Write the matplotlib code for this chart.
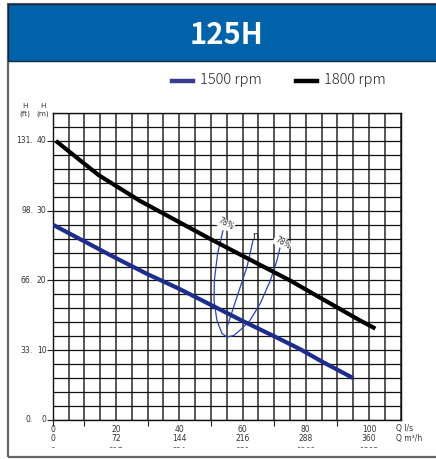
import matplotlib
matplotlib.use("Agg")
import matplotlib.pyplot as plt
from matplotlib.patches import Rectangle
from matplotlib.transforms import blended_transform_factory, Bbox

W, H = 436, 459
title = "125H"
series_names = ["1500 rpm", "1800 rpm"]
series_colors = ["#1c2d8c", "#000000"]
legend_colors = ["#3a3a90", "#000000"]

q_1500 = [0, 10, 20, 30, 40, 50, 60, 70, 78, 85, 95]
h_1500 = [28.0, 25.6, 23.2, 20.9, 18.8, 16.5, 14.2, 12.0, 10.2, 8.4, 6.0]

q_1800 = [1, 14.5, 27.6, 50, 75, 97, 102]
h_1800 = [40.0, 35.1, 31.4, 25.9, 20.0, 14.3, 13.1]

q_eff78 = [53.8, 52.1, 51.1, 51.0, 51.9, 53.5, 55.1, 57.2, 59.8, 62.4, 65.6, 68.8, 70.9, 71.9]
h_eff78 = [27.1, 23.8, 20.0, 17.1, 14.3, 12.4, 11.9, 12.1, 13.1, 14.3, 16.7, 20.0, 22.9, 24.8]
q_eta = [55.1, 58.2, 61.4, 63.3]
h_eta = [13.3, 17.6, 21.9, 25.7]

x_ticks_ls = [0, 20, 40, 60, 80, 100]
x_labels_m3h = ["0", "72", "144", "216", "288", "360"]
x_labels_gpm = ["0", "317", "634", "951", "1268", "1585"]
y_ticks_m = [0, 10, 20, 30, 40]
y_labels_ft = ["0.", "33.", "66.", "98.", "131."]

fig = plt.figure(figsize=(W / 100, H / 100), dpi=100)

def fx(x):
    return x / W

def fy(y):
    return 1 - y / H

# outer frame and title band
fig.patches.append(Rectangle((fx(8), fy(457)), fx(440) - fx(8), fy(4) - fy(457),
                             transform=fig.transFigure, facecolor="none",
                             edgecolor="#666666", lw=1.6, zorder=0))
fig.patches.append(Rectangle((fx(8), fy(61)), fx(440) - fx(8), fy(4) - fy(61),
                             transform=fig.transFigure, facecolor="#0063a9",
                             edgecolor="#16283c", lw=1.0, zorder=1))
fig.text(fx(226), fy(35), title, color="white", fontsize=21, fontweight="bold",
         family=["Noto Sans CJK JP", "DejaVu Sans"], ha="center", va="center")

# legend
for i, (name, col) in enumerate(zip(series_names, legend_colors)):
    x0 = [172, 296][i]
    fig.lines.append(plt.Line2D([fx(x0), fx(x0 + 21)], [fy(81), fy(81)],
                                transform=fig.transFigure, color=col, lw=3.2))
    fig.text(fx(x0 + 28), fy(80), name, fontsize=10.5, family=["Noto Sans CJK JP", "DejaVu Sans"],
             fontweight="light", color="#222222", va="center", ha="left")

ax = fig.add_axes([fx(52.7), fy(420), fx(400.7) - fx(52.7), fy(113) - fy(420)])
ax.set_zorder(3)
ax.patch.set_alpha(0)
ax.set_xlim(0, 110)
ax.set_ylim(0, 44)
for v in range(0, 111, 5):
    ax.axvline(v, color="#3a3a3a", lw=1.2, zorder=1)
for v in range(0, 45, 2):
    ax.axhline(v, color="#111111", lw=0.9, zorder=1)
for s in ax.spines.values():
    s.set_color("#111111")
    s.set_linewidth(1.0)
ax.set_xticks([0, 10, 30, 50, 70, 90])
ax.set_xticklabels([])
ax.set_yticks(y_ticks_m)
ax.set_yticklabels([])
ax.tick_params(axis="both", length=4, width=0.8, color="#222222")

ax.plot(q_1500, h_1500, color=series_colors[0], lw=3.0, zorder=3, solid_capstyle="butt")
ax.plot(q_1800, h_1800, color=series_colors[1], lw=3.0, zorder=3, solid_capstyle="butt")
ax.plot(q_eff78, h_eff78, color="#2d44a6", lw=0.9, zorder=2)
ax.plot(q_eta, h_eta, color="#2d44a6", lw=0.9, zorder=2)

bb = dict(facecolor="white", edgecolor="none", pad=0.6)
ax.text(54.6, 28.1, "78%", fontsize=5.5, rotation=-28, ha="center", va="center",
        color="#333333", bbox=bb, zorder=4)
ax.text(72.6, 25.4, "78%", fontsize=5.5, rotation=-30, ha="center", va="center",
        color="#333333", bbox=bb, zorder=4)
ax.text(64.0, 26.3, "η", fontsize=7, ha="center", va="center", color="#222222", zorder=4)

# tick labels
tr = blended_transform_factory(ax.transData, fig.transFigure)
clip = Bbox.from_extents(0, H - 448, W, H)
for q, l2, l3 in zip(x_ticks_ls, x_labels_m3h, x_labels_gpm):
    ax.text(q, fy(429), str(q), transform=tr, fontsize=5.5, ha="center", va="center",
            color="#333333", clip_on=False)
    ax.text(q, fy(438.5), l2, transform=tr, fontsize=5.5, ha="center", va="center",
            color="#333333", clip_on=False)
    t = ax.text(q, fy(451), l3, transform=tr, fontsize=5.5, ha="center", va="center",
                color="#555555", clip_on=True)
    t.set_clip_box(clip)
fig.text(fx(396), fy(429), "Q l/s", fontsize=5.5, ha="left", va="center", color="#333333")
fig.text(fx(396), fy(438.5), "Q m³/h", fontsize=5.5, ha="left", va="center", color="#333333")

ty = blended_transform_factory(fig.transFigure, ax.transData)
for v, lf in zip(y_ticks_m, y_labels_ft):
    ax.text(fx(46.5), v, str(v), transform=ty, fontsize=5.5, ha="right", va="center",
            color="#333333", clip_on=False)
    ax.text(fx(33), v, lf, transform=ty, fontsize=5.5, ha="right", va="center",
            color="#333333", clip_on=False)
fig.text(fx(43), fy(110), "H\n(m)", fontsize=5.2, ha="center", va="center", color="#333333", linespacing=1.2)
fig.text(fx(24.5), fy(110), "H\n(ft)", fontsize=5.2, ha="center", va="center", color="#333333", linespacing=1.2)

fig.savefig("out.png", dpi=100)
